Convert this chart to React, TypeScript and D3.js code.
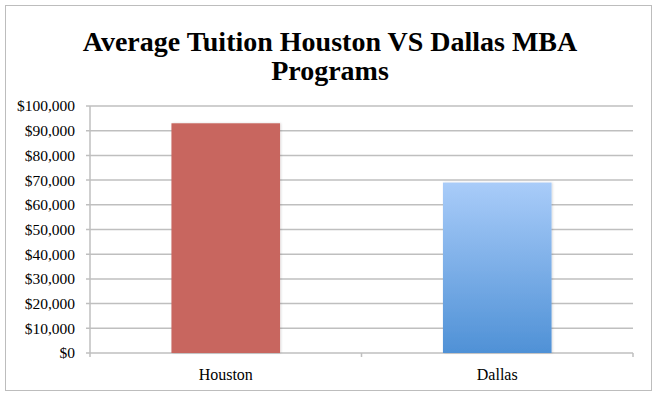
import React from "react";
import * as d3 from "d3";

const categories = ["Houston", "Dallas"];
const tuition = [93000, 69000];
const yTicks = [0, 10000, 20000, 30000, 40000, 50000, 60000, 70000, 80000, 90000, 100000];
const titleLines = ["Average Tuition Houston VS Dallas MBA", "Programs"];

const W = 659;
const H = 398;
const plot = { left: 90, right: 633, top: 106, bottom: 353 };
const FONT = "'Liberation Serif', 'DejaVu Serif', serif";

export default function App() {
  const x = d3
    .scaleBand<string>()
    .domain(categories)
    .range([plot.left, plot.right])
    .paddingInner(0.6)
    .paddingOuter(0.3);
  const y = d3.scaleLinear().domain([0, 100000]).range([plot.bottom, plot.top]);
  const fmt = (v: number) => "$" + d3.format(",")(v);
  const step = (plot.right - plot.left) / categories.length;
  const catTicks = d3.range(categories.length + 1).map((i) => plot.left + i * step);

  return (
    <svg
      width={W}
      height={H}
      style={{ position: "absolute", left: 0, top: 0, background: "#fff" }}
    >
      <defs>
        <linearGradient id="dallasGrad" x1="0" y1="0" x2="0" y2="1">
          <stop offset="0%" stopColor="#a9ccf9" />
          <stop offset="100%" stopColor="#4f91d6" />
        </linearGradient>
        <filter id="shadow" x="-10%" y="-10%" width="120%" height="120%">
          <feDropShadow dx="1" dy="0" stdDeviation="1" floodColor="#000" floodOpacity="0.15" />
        </filter>
      </defs>
      <rect x={0} y={0} width={W} height={H} fill="#fff" />
      <rect x={5.5} y={5.5} width={646} height={385} fill="#fff" stroke="#bdbdbd" strokeWidth={1} />

      {titleLines.map((t, i) => (
        <text
          key={i}
          x={330}
          y={51 + i * 29}
          textAnchor="middle"
          fontFamily={FONT}
          fontWeight="bold"
          fontSize={28}
          fill="#000"
        >
          {t}
        </text>
      ))}

      {yTicks.map((v) => (
        <g key={v}>
          <line
            x1={plot.left - 4}
            x2={plot.right}
            y1={y(v)}
            y2={y(v)}
            stroke="#bfbfbf"
            strokeWidth={1.5}
          />
          <text
            x={75}
            y={y(v)}
            dy="0.35em"
            textAnchor="end"
            fontFamily={FONT}
            fontSize={15.5}
            fill="#000"
          >
            {fmt(v)}
          </text>
        </g>
      ))}
      <line x1={plot.left} x2={plot.left} y1={plot.top} y2={plot.bottom} stroke="#bfbfbf" strokeWidth={1.5} />
      {catTicks.map((cx, i) => (
        <line key={i} x1={cx} x2={cx} y1={plot.bottom} y2={plot.bottom + 4} stroke="#bfbfbf" strokeWidth={1.5} />
      ))}

      {categories.map((c, i) => (
        <rect
          key={c}
          x={x(c)}
          y={y(tuition[i])}
          width={x.bandwidth()}
          height={plot.bottom - y(tuition[i])}
          fill={i === 0 ? "#c8665f" : "url(#dallasGrad)"}
          filter="url(#shadow)"
        />
      ))}

      {categories.map((c) => (
        <text
          key={c}
          x={(x(c) as number) + x.bandwidth() / 2}
          y={380}
          textAnchor="middle"
          fontFamily={FONT}
          fontSize={16}
          fill="#000"
        >
          {c}
        </text>
      ))}
    </svg>
  );
}
